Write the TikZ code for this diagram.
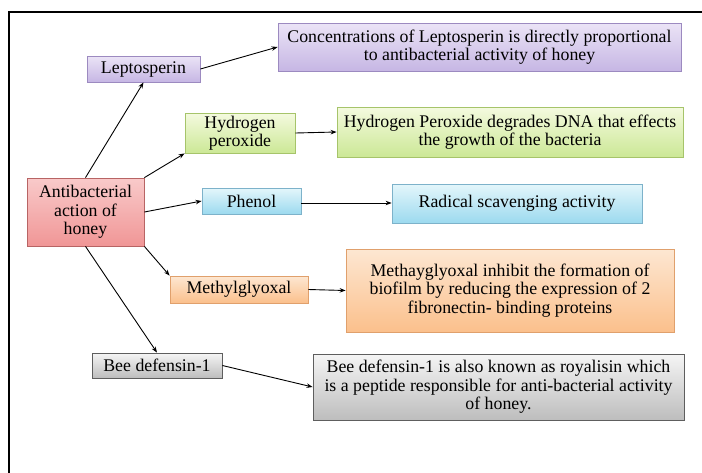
\documentclass[tikz,border=0pt]{standalone}
\usepackage{fontspec}
\setmainfont{Liberation Serif}
\usetikzlibrary{arrows.meta,shadows}
\definecolor{purT}{HTML}{EBE4F6}
\definecolor{purB}{HTML}{C6B6E4}
\definecolor{purD}{HTML}{9C8AC0}
\definecolor{greT}{HTML}{F4FADF}
\definecolor{greB}{HTML}{CCE896}
\definecolor{greD}{HTML}{A6C46A}
\definecolor{bluT}{HTML}{E4F6FB}
\definecolor{bluB}{HTML}{9CDAEF}
\definecolor{bluD}{HTML}{7DB2CA}
\definecolor{redT}{HTML}{F9CACA}
\definecolor{redB}{HTML}{F09696}
\definecolor{redD}{HTML}{B86464}
\definecolor{oraT}{HTML}{FDE7D2}
\definecolor{oraB}{HTML}{FBC08C}
\definecolor{oraD}{HTML}{E0A06C}
\definecolor{gryT}{HTML}{F5F5F5}
\definecolor{gryB}{HTML}{BDBDBD}
\definecolor{gryD}{HTML}{5E5E5E}
\tikzset{
  box/.style={draw, line width=0.8pt, inner sep=0pt, align=center,
    font=\fontsize{17.8}{18.5}\selectfont,
    drop shadow={shadow xshift=1.2pt, shadow yshift=-1.2pt, opacity=0.35}},
  purbox/.style={box, draw=purD, top color=purT, bottom color=purB},
  grebox/.style={box, draw=greD, top color=greT, bottom color=greB},
  blubox/.style={box, draw=bluD, top color=bluT, bottom color=bluB},
  redbox/.style={box, draw=redD, top color=redT, bottom color=redB},
  orabox/.style={box, draw=oraD, top color=oraT, bottom color=oraB},
  grybox/.style={box, draw=gryD, top color=gryT, bottom color=gryB},
  conn/.style={line width=0.9pt, -{Stealth[length=6pt,width=4.5pt]}},
}
\begin{document}
\begin{tikzpicture}[x=1pt,y=-1pt]
\useasboundingbox (0,0) rectangle (702,472);
\draw[line width=1.6pt] (9,480) -- (9,12) -- (710,12);

\node[purbox, minimum width=113, minimum height=26] (lep) at (143.5,69) {Leptosperin};
\node[purbox, minimum width=403, minimum height=48] (conc) at (479.5,47) {Concentrations of Leptosperin is directly proportional\\to antibacterial activity of honey};
\node[grebox, minimum width=110, minimum height=40] (hyd) at (240,133) {Hydrogen\\peroxide};
\node[grebox, minimum width=346, minimum height=50] (hydd) at (510,132) {Hydrogen Peroxide degrades DNA that effects\\the growth of the bacteria};
\node[redbox, minimum width=117, minimum height=68] (anti) at (85.5,212) {Antibacterial\\action of\\honey};
\node[blubox, minimum width=99, minimum height=26] (phen) at (251.5,201) {Phenol};
\node[blubox, minimum width=250, minimum height=39] (rad) at (517,203.5) {Radical scavenging activity};
\node[orabox, minimum width=138, minimum height=27] (meth) at (239,289.5) {Methylglyoxal};
\node[orabox, minimum width=328, minimum height=83] (methd) at (510,290.5) {Methayglyoxal inhibit the formation of\\biofilm by reducing the expression of 2\\fibronectin- binding proteins};
\node[grybox, minimum width=130, minimum height=25] (bee) at (157,365.5) {Bee defensin-1};
\node[grybox, minimum width=371, minimum height=66] (beed) at (498.5,387) {Bee defensin-1 is also known as royalisin which\\is a peptide responsible for anti-bacterial activity\\of honey.};

\draw[conn] (anti.north) -- (lep.south);
\draw[conn] (anti.north east) -- (hyd.south west);
\draw[conn] (anti.east) -- (phen.west);
\draw[conn] (anti.south east) -- (meth.north west);
\draw[conn] (anti.south) -- (bee.north);
\draw[conn] (lep.east) -- (conc.west);
\draw[conn] (hyd.east) -- (hydd.west);
\draw[conn] ([yshift=-2pt]phen.east) -- ([yshift=-2pt]phen.east -| rad.west);
\draw[conn] (meth.east) -- (methd.west);
\draw[conn] (bee.east) -- (beed.west);
\end{tikzpicture}
\end{document}
